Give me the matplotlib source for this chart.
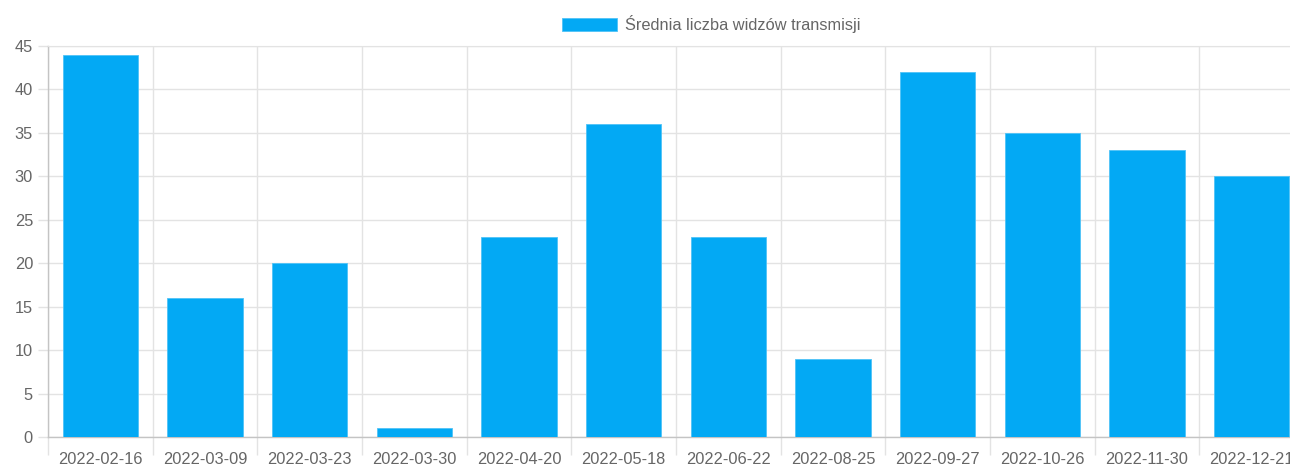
import numpy as np
import matplotlib
matplotlib.use("Agg")
import matplotlib.pyplot as plt

dates = ["2022-02-16", "2022-03-09", "2022-03-23", "2022-03-30", "2022-04-20",
         "2022-05-18", "2022-06-22", "2022-08-25", "2022-09-27", "2022-10-26",
         "2022-11-30", "2022-12-21"]
viewers = [44, 16, 20, 1, 23, 36, 23, 9, 42, 35, 33, 30]
series_name = "Średnia liczba widzów transmisji"

plt.rcParams["font.family"] = ["Liberation Sans", "DejaVu Sans"]

bar_color = "#03a9f4"
grid_color = "#e3e3e3"
axis_color = "#c4c4c4"
text_color = "#666666"
fs = 11.8

fig = plt.figure(figsize=(12.9, 4.68), dpi=100)
# the plot area runs past the right edge, as in the reference
ax = fig.add_axes([48 / 1290, 31 / 468, 1256 / 1290, 391 / 468])

x = np.arange(len(dates))
ax.bar(x, viewers, width=0.72, color=bar_color, edgecolor="#4fc3f7",
       linewidth=0.6, label=series_name, zorder=3)

ax.set_xlim(-0.5, len(dates) - 0.5)
ax.set_ylim(0, 45)
ax.set_yticks(np.arange(0, 46, 5))

ax.set_xticks(x)
ax.set_xticklabels(dates)
ax.set_xticks(np.arange(-0.5, len(dates), 1), minor=True)

ax.tick_params(axis="x", which="major", length=0, pad=11, labelsize=fs,
               labelcolor=text_color)
ax.tick_params(axis="x", which="minor", length=13, color=grid_color, width=1)
ax.tick_params(axis="y", length=7.2, color=grid_color, width=1, pad=3.6,
               labelsize=fs, labelcolor=text_color)

ax.grid(axis="y", color=grid_color, linewidth=1, zorder=0)
ax.grid(axis="x", which="minor", color=grid_color, linewidth=1, zorder=0)
ax.set_axisbelow(True)

for side in ["left", "bottom"]:
    ax.spines[side].set_color(axis_color)
    ax.spines[side].set_linewidth(1)
ax.spines["top"].set_color(grid_color)
ax.spines["right"].set_visible(False)

fig.legend(loc="center", bbox_to_anchor=(711 / 1290, 1 - 24 / 468),
           frameon=False, fontsize=fs, labelcolor=text_color,
           handlelength=3.35, handleheight=0.85, handletextpad=0.5)

fig.savefig("out.png", dpi=100)
